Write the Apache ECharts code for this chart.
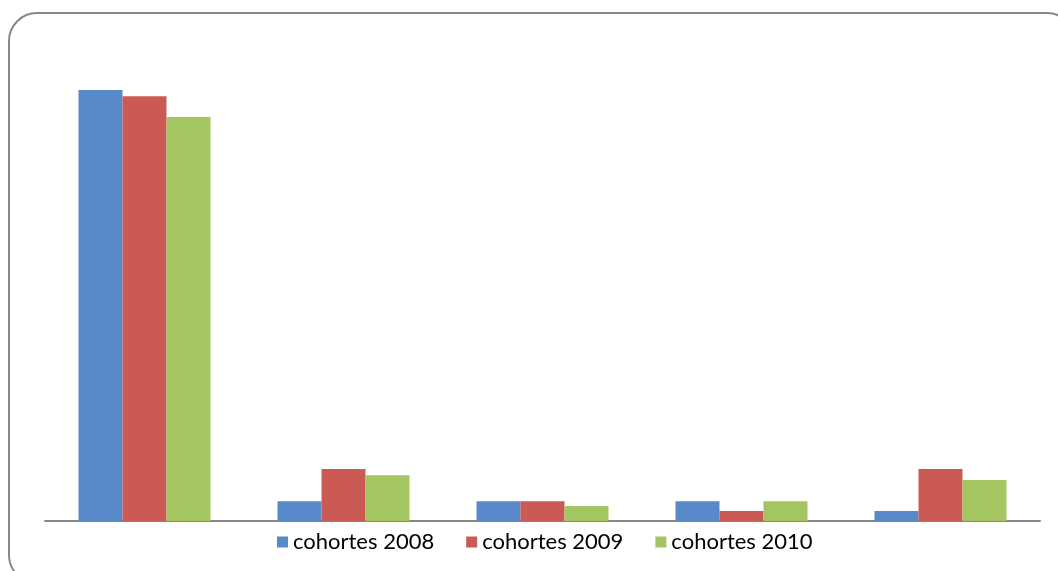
<!DOCTYPE html>
<html>
<head>
<meta charset="utf-8">
<script src="https://cdn.jsdelivr.net/npm/echarts@6/dist/echarts.min.js"></script>
<style>
  html, body { margin: 0; padding: 0; background: #fff; }
  #chart { width: 1058px; height: 571px; }
</style>
</head>
<body>
<div id="chart"></div>
<script>
// five groups, no axis labels in the original
const categories = ['1', '2', '3', '4', '5']
const seriesNames = ['cohortes 2008', 'cohortes 2009', 'cohortes 2010']
const cohort2008 = [82.9, 3.8, 3.8, 3.8, 1.9]
const cohort2009 = [81.7, 10.0, 3.8, 1.9, 10.0]
const cohort2010 = [77.7, 8.8, 2.9, 3.8, 7.9]

const colors = ['#5889c8', '#cb5a55', '#a5c562']

const chart = echarts.init(document.getElementById('chart'))

const makeBar = (name, data, i) => ({
  name,
  type: 'bar',
  data,
  barWidth: 44,
  barGap: '0%',
  itemStyle: { color: colors[i] }
})

chart.setOption({
  animation: false,
  graphic: [{
    type: 'rect',
    shape: { x: 9, y: 13, width: 1066, height: 570, r: 28 },
    style: { fill: 'none', stroke: '#878787', lineWidth: 2 },
    z: -1
  }],
  grid: { left: 45, right: 18, top: 53, bottom: 50 },
  legend: {
    bottom: 13,
    left: 272,
    itemWidth: 11,
    itemHeight: 11,
    itemGap: 32,
    icon: 'rect',
    textStyle: { fontFamily: 'Lato', fontSize: 22, color: '#000' },
    data: seriesNames
  },
  xAxis: {
    type: 'category',
    data: categories,
    axisLine: { lineStyle: { color: '#878787', width: 2 } },
    axisTick: { show: false },
    axisLabel: { show: false }
  },
  yAxis: {
    type: 'value',
    min: 0,
    max: 90,
    axisLine: { show: false },
    axisTick: { show: false },
    axisLabel: { show: false },
    splitLine: { show: false }
  },
  series: [
    makeBar(seriesNames[0], cohort2008, 0),
    makeBar(seriesNames[1], cohort2009, 1),
    makeBar(seriesNames[2], cohort2010, 2)
  ]
})
</script>
</body>
</html>
